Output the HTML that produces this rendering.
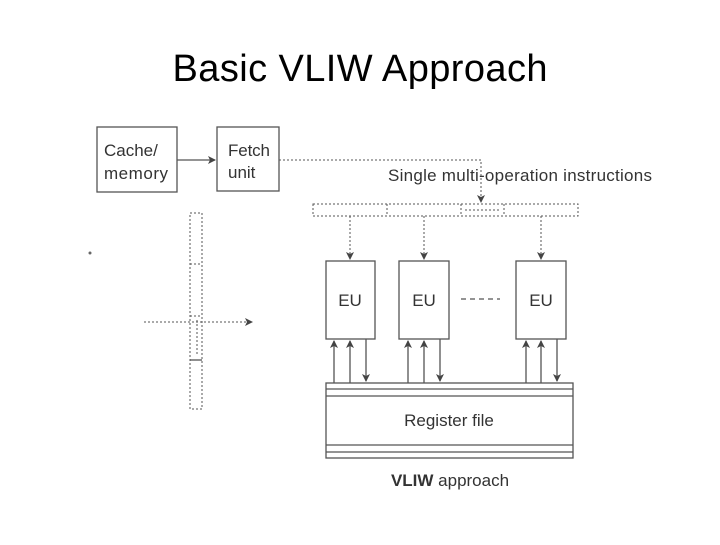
<!DOCTYPE html>
<html><head><style>
body{margin:0;background:#fff;}
svg text{font-family:"Liberation Sans",sans-serif;fill:#333;}
</style></head><body>
<svg width="720" height="540" viewBox="0 0 720 540" xmlns="http://www.w3.org/2000/svg">
<defs>
<marker id="a" markerWidth="8" markerHeight="8" refX="7" refY="4" orient="auto" markerUnits="userSpaceOnUse"><path d="M0,0 L8,4 L0,8 L2,4 z" fill="#444"/></marker>
</defs>
<text x="360" y="81" text-anchor="middle" style="font-size:38px;fill:#000" textLength="375">Basic VLIW Approach</text>
<g stroke="#555" fill="none" stroke-width="1.3">
<rect x="97" y="127" width="80" height="65"/>
<rect x="217" y="127" width="62" height="64"/>
<line x1="177" y1="160" x2="215" y2="160" marker-end="url(#a)"/>
</g>
<text x="104" y="156" font-size="17">Cache/</text>
<text x="104" y="179" font-size="17" textLength="64">memory</text>
<text x="228" y="156" font-size="17" textLength="42">Fetch</text>
<text x="228" y="178" font-size="17">unit</text>
<text x="388" y="181" font-size="17" textLength="264">Single multi-operation instructions</text>
<g stroke="#555" fill="none" stroke-width="1" stroke-dasharray="2,2">
<polyline points="279,160 481,160 481,202" marker-end="url(#a)"/>
<rect x="313" y="204" width="265" height="12"/>
<line x1="387" y1="204" x2="387" y2="216"/>
<line x1="461" y1="204" x2="461" y2="216"/>
<line x1="504" y1="204" x2="504" y2="216"/>
<line x1="465" y1="210" x2="500" y2="210"/>
<line x1="350" y1="216" x2="350" y2="259" marker-end="url(#a)"/>
<line x1="424" y1="216" x2="424" y2="259" marker-end="url(#a)"/>
<line x1="541" y1="216" x2="541" y2="259" marker-end="url(#a)"/>
<rect x="190" y="213" width="12" height="196"/>
<line x1="190" y1="264" x2="202" y2="264"/>
<line x1="190" y1="316" x2="202" y2="316"/>
<line x1="197" y1="320" x2="197" y2="355"/>
<line x1="144" y1="322" x2="252" y2="322" marker-end="url(#a)"/>
<line x1="461" y1="299" x2="500" y2="299" stroke-dasharray="5,4" stroke-width="1.3"/>
</g>
<line x1="190" y1="360" x2="202" y2="360" stroke="#555" stroke-width="1.3"/>
<g stroke="#555" fill="none" stroke-width="1.3">
<rect x="326" y="261" width="49" height="78"/>
<rect x="399" y="261" width="50" height="78"/>
<rect x="516" y="261" width="50" height="78"/>
<rect x="326" y="383" width="247" height="75"/>
<line x1="326" y1="389" x2="573" y2="389"/>
<line x1="326" y1="396" x2="573" y2="396"/>
<line x1="326" y1="445" x2="573" y2="445"/>
<line x1="326" y1="452" x2="573" y2="452"/>
<line x1="334" y1="383" x2="334" y2="341" marker-end="url(#a)"/>
<line x1="350" y1="383" x2="350" y2="341" marker-end="url(#a)"/>
<line x1="366" y1="339" x2="366" y2="381" marker-end="url(#a)"/>
<line x1="408" y1="383" x2="408" y2="341" marker-end="url(#a)"/>
<line x1="424" y1="383" x2="424" y2="341" marker-end="url(#a)"/>
<line x1="440" y1="339" x2="440" y2="381" marker-end="url(#a)"/>
<line x1="526" y1="383" x2="526" y2="341" marker-end="url(#a)"/>
<line x1="541" y1="383" x2="541" y2="341" marker-end="url(#a)"/>
<line x1="557" y1="339" x2="557" y2="381" marker-end="url(#a)"/>
</g>
<text x="350" y="306" font-size="17" text-anchor="middle">EU</text>
<text x="424" y="306" font-size="17" text-anchor="middle">EU</text>
<text x="541" y="306" font-size="17" text-anchor="middle">EU</text>
<text x="449" y="426" font-size="17" text-anchor="middle">Register file</text>
<text x="450" y="486" font-size="17" text-anchor="middle"><tspan font-weight="bold">VLIW</tspan> approach</text>
<circle cx="90" cy="253" r="1.5" fill="#666"/>
</svg>
</body></html>
